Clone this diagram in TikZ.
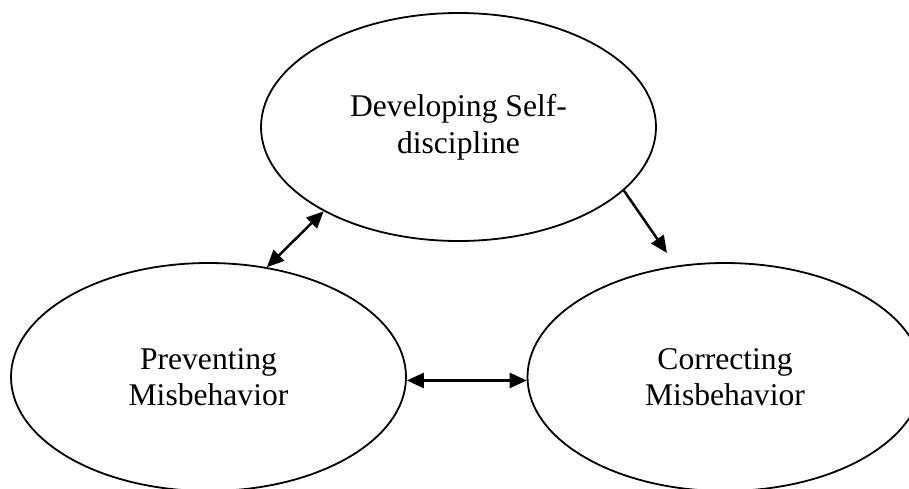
\documentclass[tikz,border=0pt]{standalone}
\usepackage{fontspec}
\setmainfont{Liberation Serif}
\usetikzlibrary{shapes.geometric,arrows.meta}
\begin{document}
\begin{tikzpicture}[x=1pt,y=-1pt,
  oval/.style={draw, ellipse, line width=1.8pt, minimum width=395pt, minimum height=228pt, inner sep=0pt, align=center, font=\fontsize{31.6}{36.5}\selectfont},
  conn/.style={line width=2.5pt, -{Triangle[length=17pt,width=15pt]}},
  biconn/.style={line width=2.5pt, {Triangle[length=17pt,width=15pt]}-{Triangle[length=17pt,width=15pt]}}]
\useasboundingbox (0,0) rectangle (909,488);
\clip (0,0) rectangle (909,488);
\node[oval] (top) at (458.5,127) {Developing Self-\\discipline};
\node[oval] (left) at (208.5,377) {Preventing\\Misbehavior};
\node[oval] (right) at (725,377) {Correcting\\Misbehavior};
\coordinate (tipc) at (667,253);
\draw[biconn] (top.212) -- (left.62);
\draw[conn] (top.-21.6) -- (tipc);
\draw[biconn] (left.-1) -- (right.181);
\end{tikzpicture}
\end{document}
